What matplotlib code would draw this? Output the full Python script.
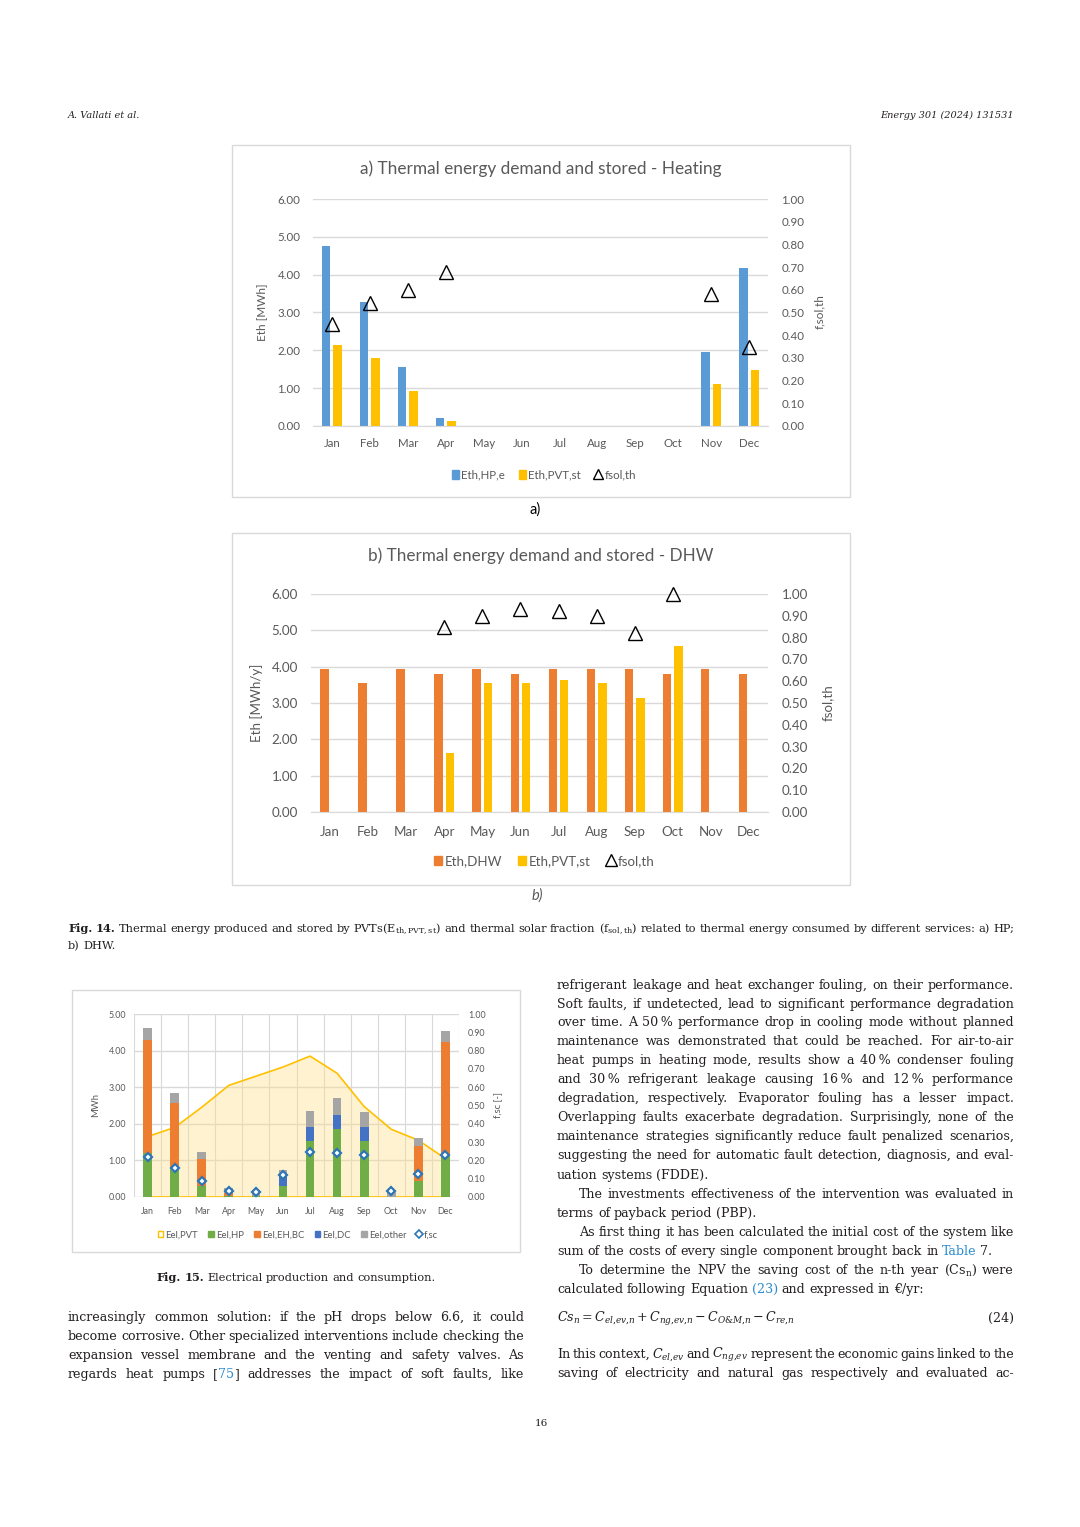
import numpy as np
import matplotlib
matplotlib.use('Agg')
import matplotlib.pyplot as plt
from matplotlib.patches import Rectangle, Patch
from matplotlib.lines import Line2D

W, H = 1080, 1527
nan = np.nan

months = ['Jan', 'Feb', 'Mar', 'Apr', 'May', 'Jun', 'Jul', 'Aug', 'Sep', 'Oct', 'Nov', 'Dec']

# Fig. 14 a) heating
heat_hp = [4.75, 3.27, 1.57, 0.20, 0, 0, 0, 0, 0, 0, 1.95, 4.17]
heat_pvt = [2.15, 1.80, 0.92, 0.12, 0, 0, 0, 0, 0, 0, 1.10, 1.47]
heat_fsol = [0.45, 0.54, 0.60, 0.68, nan, nan, nan, nan, nan, nan, 0.58, 0.35]

# Fig. 14 b) DHW
dhw_dem = [3.93, 3.55, 3.93, 3.80, 3.93, 3.80, 3.93, 3.93, 3.93, 3.80, 3.93, 3.80]
dhw_pvt = [0, 0, 0, 1.63, 3.55, 3.55, 3.63, 3.55, 3.15, 4.58, 0, 0]
dhw_fsol = [nan, nan, nan, 0.85, 0.90, 0.93, 0.92, 0.90, 0.82, 1.00, nan, nan]

# Fig. 15 electrical production and consumption
el_pvt = [1.65, 1.90, 2.45, 3.05, 3.30, 3.55, 3.85, 3.38, 2.47, 1.85, 1.55, 1.05]
el_hp = [1.21, 0.80, 0.31, 0.04, 0.03, 0.31, 1.53, 1.86, 1.54, 0, 0.43, 1.12]
el_eh = [3.08, 1.78, 0.73, 0.06, 0, 0, 0, 0, 0, 0, 0.96, 3.12]
el_dc = [0, 0, 0, 0, 0, 0.26, 0.39, 0.39, 0.36, 0, 0, 0]
el_other = [0.32, 0.25, 0.18, 0.15, 0.15, 0.18, 0.42, 0.46, 0.41, 0.15, 0.21, 0.30]
f_sc = [0.22, 0.16, 0.09, 0.035, 0.025, 0.12, 0.245, 0.24, 0.23, 0.035, 0.125, 0.23]

# page text (~ toggles link colour, # marks bold word)
right_col = [
    (985, "refrigerant leakage and heat exchanger fouling, on their performance.", 'j', 0),
    (1004, "Soft faults, if undetected, lead to significant performance degradation", 'j', 0),
    (1022, "over time. A 50\u2009% performance drop in cooling mode without planned", 'j', 0),
    (1041, "maintenance was demonstrated that could be reached. For air-to-air", 'j', 0),
    (1060, "heat pumps in heating mode, results show a 40\u2009% condenser fouling", 'j', 0),
    (1079, "and 30\u2009% refrigerant leakage causing 16\u2009% and 12\u2009% performance", 'j', 0),
    (1098, "degradation, respectively. Evaporator fouling has a lesser impact.", 'j', 0),
    (1117, "Overlapping faults exacerbate degradation. Surprisingly, none of the", 'j', 0),
    (1136, "maintenance strategies significantly reduce fault penalized scenarios,", 'j', 0),
    (1155, "suggesting the need for automatic fault detection, diagnosis, and eval-", 'j', 0),
    (1175, "uation systems (FDDE).", 'l', 0),
    (1194, "The investments effectiveness of the intervention was evaluated in", 'j', 22),
    (1213, "terms of payback period (PBP).", 'l', 0),
    (1232, "As first thing it has been calculated the initial cost of the system like", 'j', 22),
    (1251, "sum of the costs of every single component brought back in ~Table 7.~", 'l', 0),
    (1270, "To determine the NPV the saving cost of the n-th year (Cs$_\\mathregular{n}$) were", 'j', 22),
    (1289, "calculated following Equation ~(23)~ and expressed in \u20ac/yr:", 'l', 0),
    (1354, "In this context, $C_{el{,}ev}$ and $C_{ng{,}ev}$ represent the economic gains linked to the", 'j', 0),
    (1373, "saving of electricity and natural gas respectively and evaluated ac-", 'j', 0),
]
left_col = [
    (1317, "increasingly common solution: if the pH drops below 6.6, it could", 'j', 0),
    (1336, "become corrosive. Other specialized interventions include checking the", 'j', 0),
    (1355, "expansion vessel membrane and the venting and safety valves. As", 'j', 0),
    (1374, "regards heat pumps [~75~] addresses the impact of soft faults, like", 'j', 0),
]

INK = '#231F20'
LINK = '#2A8BD0'
GRID = '#D9D9D9'
TXT = '#595959'
SANS = 'Lato'
SERIF = 'DejaVu Serif'
BODY = 9.1

plt.rcParams['mathtext.fontset'] = 'dejavuserif'

fig = plt.figure(figsize=(W / 100, H / 100), dpi=100)
fig.patch.set_facecolor('white')
renderer = fig.canvas.get_renderer()


def px_axes(x0, y0, x1, y1):
    return fig.add_axes([x0 / W, 1 - y1 / H, (x1 - x0) / W, (y1 - y0) / H])


def frame(x0, y0, x1, y1):
    fig.add_artist(Rectangle((x0 / W, 1 - y1 / H), (x1 - x0) / W, (y1 - y0) / H,
                             transform=fig.transFigure, fill=False, edgecolor=GRID, lw=1))


def ftext(x, y, s, **kw):
    return fig.text(x / W, 1 - y / H, s, **kw)


def text_line(x0, x1, y, line, fs, mode='j', indent=0):
    objs = []
    for w in line.split(' '):
        bold = w.startswith('#')
        if bold:
            w = w[1:]
        pcs = []
        for i, p in enumerate(w.split('~')):
            if p == '':
                continue
            pcs.append(fig.text(0, 0, p, fontsize=fs, family=SERIF, va='baseline',
                                color=LINK if i % 2 else INK,
                                fontweight='bold' if bold else 'normal'))
        objs.append(pcs)
    widths = [[p.get_window_extent(renderer).width for p in pcs] for pcs in objs]
    total = sum(sum(w) for w in widths)
    space = fs * 100 / 72 * 0.3
    x = x0 + indent
    gap = space
    if mode == 'j' and len(objs) > 1:
        gap = (x1 - x - total) / (len(objs) - 1)
    elif mode == 'c':
        x = (x0 + x1) / 2 - (total + space * (len(objs) - 1)) / 2
    for pcs, ws in zip(objs, widths):
        for p, w in zip(pcs, ws):
            p.set_position((x / W, 1 - (y + 4) / H))
            x += w
        x += gap


def style_axes(ax, ax2, fs, pads):
    for s in ['top', 'left', 'right']:
        ax.spines[s].set_visible(False)
        ax2.spines[s].set_visible(False)
    ax.spines['bottom'].set_color(GRID)
    ax2.spines['bottom'].set_visible(False)
    ax.set_axisbelow(True)
    ax.yaxis.grid(True, color=GRID, lw=1)
    ax.tick_params(axis='y', length=0, colors=TXT, labelsize=fs, pad=pads[0])
    ax.tick_params(axis='x', length=0, colors=TXT, labelsize=fs, pad=pads[2])
    ax2.tick_params(axis='y', length=0, colors=TXT, labelsize=fs, pad=pads[1])
    for lab in ax.get_xticklabels() + ax.get_yticklabels() + ax2.get_yticklabels():
        lab.set_family(SANS)


x = np.arange(12)

# ---------------- Fig. 14 a) ----------------
frame(232, 145, 850, 497)
ax = px_axes(313, 199, 768, 426)
ax.bar(x - 0.15, heat_hp, 0.22, color='#5B9BD5')
ax.bar(x + 0.15, heat_pvt, 0.22, color='#FFC000')
ax.set_xlim(-0.5, 11.5)
ax.set_ylim(0, 6)
ax.set_yticks(np.arange(0, 6.01, 1))
ax.set_yticklabels(['%.2f' % v for v in np.arange(0, 6.01, 1)])
ax.set_xticks(x)
ax.set_xticklabels(months)
ax2 = ax.twinx()
ax2.plot(x, heat_fsol, ls='none', marker='^', ms=10, mfc='none', mec='black', mew=1, clip_on=False)
ax2.set_ylim(0, 1)
ax2.set_yticks(np.arange(0, 1.001, 0.1))
ax2.set_yticklabels(['%.2f' % v for v in np.arange(0, 1.001, 0.1)])
style_axes(ax, ax2, 8.3, (9.0, 9.5, 8.3))
ftext(541, 169, 'a) Thermal energy demand and stored - Heating', ha='center', va='center',
      fontsize=12.4, color=TXT, family=SANS)
ftext(262, 312, 'Eth [MWh]', ha='center', va='center', rotation=90, fontsize=8.5, color=TXT, family=SANS)
ftext(820, 312, 'f,sol,th', ha='center', va='center', rotation=90, fontsize=8.5, color=TXT, family=SANS)
handles = [Patch(color='#5B9BD5'), Patch(color='#FFC000'),
           Line2D([], [], ls='none', marker='^', mfc='none', mec='black', ms=7)]
leg = fig.legend(handles, ['Eth,HP,e', 'Eth,PVT,st', 'fsol,th'], loc='center', ncol=3,
                 bbox_to_anchor=(544 / W, 1 - 475 / H), frameon=False, fontsize=8.3,
                 handlelength=0.6, handleheight=0.7, handletextpad=0.2, columnspacing=1.2)
for t in leg.get_texts():
    t.set_color(TXT)
    t.set_family(SANS)
ftext(535, 510, 'a)', ha='center', va='center', fontsize=10.5, color='black', family=SANS)

# ---------------- Fig. 14 b) ----------------
frame(232, 533, 850, 885)
ax = px_axes(311, 594, 768, 812)
ax.bar(x - 0.15, dhw_dem, 0.22, color='#ED7D31')
ax.bar(x + 0.15, dhw_pvt, 0.22, color='#FFC000')
ax.set_xlim(-0.5, 11.5)
ax.set_ylim(0, 6)
ax.set_yticks(np.arange(0, 6.01, 1))
ax.set_yticklabels(['%.2f' % v for v in np.arange(0, 6.01, 1)])
ax.set_xticks(x)
ax.set_xticklabels(months)
ax2 = ax.twinx()
ax2.plot(x, dhw_fsol, ls='none', marker='^', ms=10, mfc='none', mec='black', mew=1, clip_on=False)
ax2.set_ylim(0, 1)
ax2.set_yticks(np.arange(0, 1.001, 0.1))
ax2.set_yticklabels(['%.2f' % v for v in np.arange(0, 1.001, 0.1)])
style_axes(ax, ax2, 9.6, (9.4, 10, 10))
ftext(541, 556, 'b) Thermal energy demand and stored - DHW', ha='center', va='center',
      fontsize=12.3, color=TXT, family=SANS)
ftext(257, 703, 'Eth [MWh/y]', ha='center', va='center', rotation=90, fontsize=9.6, color=TXT, family=SANS)
ftext(828, 703, 'fsol,th', ha='center', va='center', rotation=90, fontsize=9.6, color=TXT, family=SANS)
handles = [Patch(color='#ED7D31'), Patch(color='#FFC000'),
           Line2D([], [], ls='none', marker='^', mfc='none', mec='black', ms=8)]
leg = fig.legend(handles, ['Eth,DHW', 'Eth,PVT,st', 'fsol,th'], loc='center', ncol=3,
                 bbox_to_anchor=(544 / W, 1 - 861 / H), frameon=False, fontsize=9.6,
                 handlelength=0.6, handleheight=0.7, handletextpad=0.2, columnspacing=1.2)
for t in leg.get_texts():
    t.set_color(TXT)
    t.set_family(SANS)
ftext(537, 896, 'b)', ha='center', va='center', fontsize=10.5, color=TXT, family=SANS, style='italic')

# ---------------- Fig. 14 caption ----------------
text_line(68, 1014, 928, "#Fig. #14. Thermal energy produced and stored by PVTs(E$_{\\mathregular{th,PVT,st}}$) "
          "and thermal solar fraction (f$_{\\mathregular{sol,th}}$) related to thermal energy consumed "
          "by different services: a) HP;", 8.2, 'j')
text_line(68, 1014, 945, "b) DHW.", 8.2, 'l')

# ---------------- Fig. 15 ----------------
frame(72, 990, 520, 1252)
ax = px_axes(134, 1014, 459, 1197)
ax.fill_between(x, 0, el_pvt, color='#FFE08A', alpha=0.4, lw=0, zorder=1)
ax.plot(x, el_pvt, color='#FFC000', lw=1.2, zorder=2)
ax.plot(x, np.zeros(12), color='#FFC000', lw=1.2, zorder=2)
bottom = np.zeros(12)
for vals, col in [(el_hp, '#70AD47'), (el_eh, '#ED7D31'), (el_dc, '#4472C4'), (el_other, '#A5A5A5')]:
    ax.bar(x, vals, 0.32, bottom=bottom, color=col, zorder=3)
    bottom = bottom + np.array(vals)
ax.set_xlim(-0.5, 11.5)
ax.set_ylim(0, 5)
ax.set_yticks(np.arange(0, 5.01, 1))
ax.set_yticklabels(['%.2f' % v for v in np.arange(0, 5.01, 1)])
ax.set_xticks(x)
ax.set_xticklabels(months)
ax.set_xticks(np.arange(-0.5, 12, 1), minor=True)
ax.xaxis.grid(True, which='minor', color=GRID, lw=0.8)
ax.tick_params(axis='x', which='minor', length=0)
ax2 = ax.twinx()
ax2.plot(x, f_sc, ls='none', marker='D', ms=4.5, mfc='white', mec='#2E75B6', mew=1.6, zorder=5)
ax2.set_ylim(0, 1)
ax2.set_yticks(np.arange(0, 1.001, 0.1))
ax2.set_yticklabels(['%.2f' % v for v in np.arange(0, 1.001, 0.1)])
style_axes(ax, ax2, 6.4, (5.8, 6.5, 7.5))
ax.spines['bottom'].set_visible(False)
ftext(96, 1105, 'MWh', ha='center', va='center', rotation=90, fontsize=6.8, color=TXT, family=SANS)
ftext(498, 1105, 'f,sc [-]', ha='center', va='center', rotation=90, fontsize=6.8, color=TXT, family=SANS)
handles = [Patch(facecolor='white', edgecolor='#FFC000'), Patch(color='#70AD47'), Patch(color='#ED7D31'),
           Patch(color='#4472C4'), Patch(color='#A5A5A5'),
           Line2D([], [], ls='none', marker='D', mfc='white', mec='#2E75B6', mew=1.2, ms=3.8)]
leg = fig.legend(handles, ['Eel,PVT', 'Eel,HP', 'Eel,EH,BC', 'Eel,DC', 'Eel,other', 'f,sc'],
                 loc='center', ncol=6, bbox_to_anchor=(298 / W, 1 - 1235 / H), frameon=False,
                 fontsize=6.8, handlelength=0.6, handleheight=0.6, handletextpad=0.2, columnspacing=1.1)
for t in leg.get_texts():
    t.set_color(TXT)
    t.set_family(SANS)
text_line(72, 520, 1277, "#Fig. #15. Electrical production and consumption.", 8.2, 'c')

# ---------------- page text ----------------
ftext(68, 115, 'A. Vallati et al.', fontsize=7, family=SERIF, style='italic', color=INK, va='center')
ftext(1014, 115, 'Energy 301 (2024) 131531', fontsize=7, family=SERIF, style='italic',
      color=INK, va='center', ha='right')
for y, line, mode, ind in right_col:
    text_line(557, 1014, y, line, BODY, mode, ind)
for y, line, mode, ind in left_col:
    text_line(68, 524, y, line, BODY, mode, ind)
ftext(557, 1322, r'$Cs_n = C_{el{,}ev{,}n} + C_{ng{,}ev{,}n} - C_{O&M{,}n} - C_{re{,}n}$',
      fontsize=BODY, color=INK, va='baseline')
ftext(1014, 1322, '(24)', fontsize=BODY, family=SERIF, color=INK, va='baseline', ha='right')
ftext(541, 1424, '16', fontsize=7.5, family=SERIF, color=INK, va='center', ha='center')

fig.savefig('out.png', dpi=100, facecolor='white')
